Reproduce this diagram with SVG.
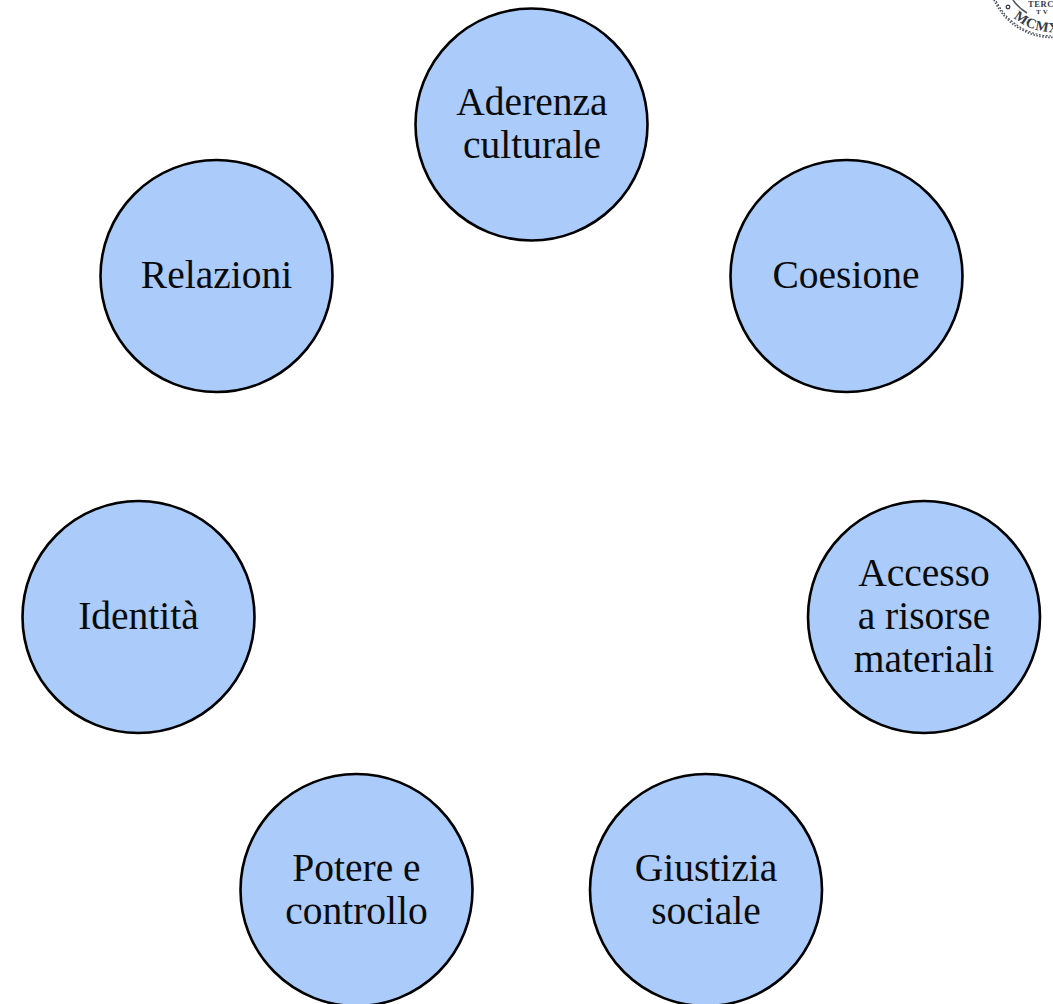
<svg xmlns="http://www.w3.org/2000/svg" width="1053" height="1004" viewBox="0 0 1053 1004">
<style>
.n{fill:#abcbfa;stroke:#000;stroke-width:2.6}
.t{font-family:"Liberation Serif",serif;font-size:39.500px;fill:#0a0a0a;text-anchor:middle}
.s{font-family:"Liberation Serif",serif;font-weight:bold;fill:#333c4a}
.r{fill:none;stroke:#4a5260}
</style>
<defs><path id="a" d="M1008,11.800 A58,58 0 0 0 1100,6.600"/></defs>
<rect width="1053" height="1004" fill="#fff"/>
<g id="stamp">
<circle class="r" cx="1052" cy="-26" r="63.500" stroke-width="1.600" stroke-dasharray="1.500 1.500"/>
<circle class="r" cx="1052" cy="-26" r="62" stroke-width="1.200" stroke-dasharray="2 1.500"/>
<path class="r" d="M1013,0 A47,47 0 0 0 1027,13" stroke-width="1.500"/>
<circle cx="1008" cy="7" r="1.800" fill="none" stroke="#333c4a" stroke-width="1.300"/>
<text class="s" x="1028" y="6.500" font-size="8.500" letter-spacing=".6">TERC</text>
<text class="s" x="1036" y="14" font-size="7" letter-spacing="2">TV</text>
<text class="s" font-size="14" letter-spacing=".6"><textPath href="#a" startOffset="8">MCMX</textPath></text>
</g>
<g id="connectors"/>
<g id="aderenza"><circle class="n" cx="531.500" cy="124.500" r="116"/><text class="t" x="532" y="115">Aderenza</text><text class="t" x="532" y="158">culturale</text></g>
<g id="coesione"><circle class="n" cx="846.500" cy="276" r="116"/><text class="t" x="846" y="288">Coesione</text></g>
<g id="accesso"><circle class="n" cx="924" cy="617" r="116"/><text class="t" x="924" y="586">Accesso</text><text class="t" x="924" y="629">a risorse</text><text class="t" x="924" y="672">materiali</text></g>
<g id="giustizia"><circle class="n" cx="706" cy="890" r="116"/><text class="t" x="706" y="881">Giustizia</text><text class="t" x="706" y="924">sociale</text></g>
<g id="potere"><circle class="n" cx="356.500" cy="890" r="116"/><text class="t" x="356.500" y="881">Potere e</text><text class="t" x="356.500" y="924">controllo</text></g>
<g id="identita"><circle class="n" cx="138.500" cy="617" r="116"/><text class="t" x="138.500" y="629">Identità</text></g>
<g id="relazioni"><circle class="n" cx="216.500" cy="276" r="116"/><text class="t" x="216.500" y="288">Relazioni</text></g>
</svg>
